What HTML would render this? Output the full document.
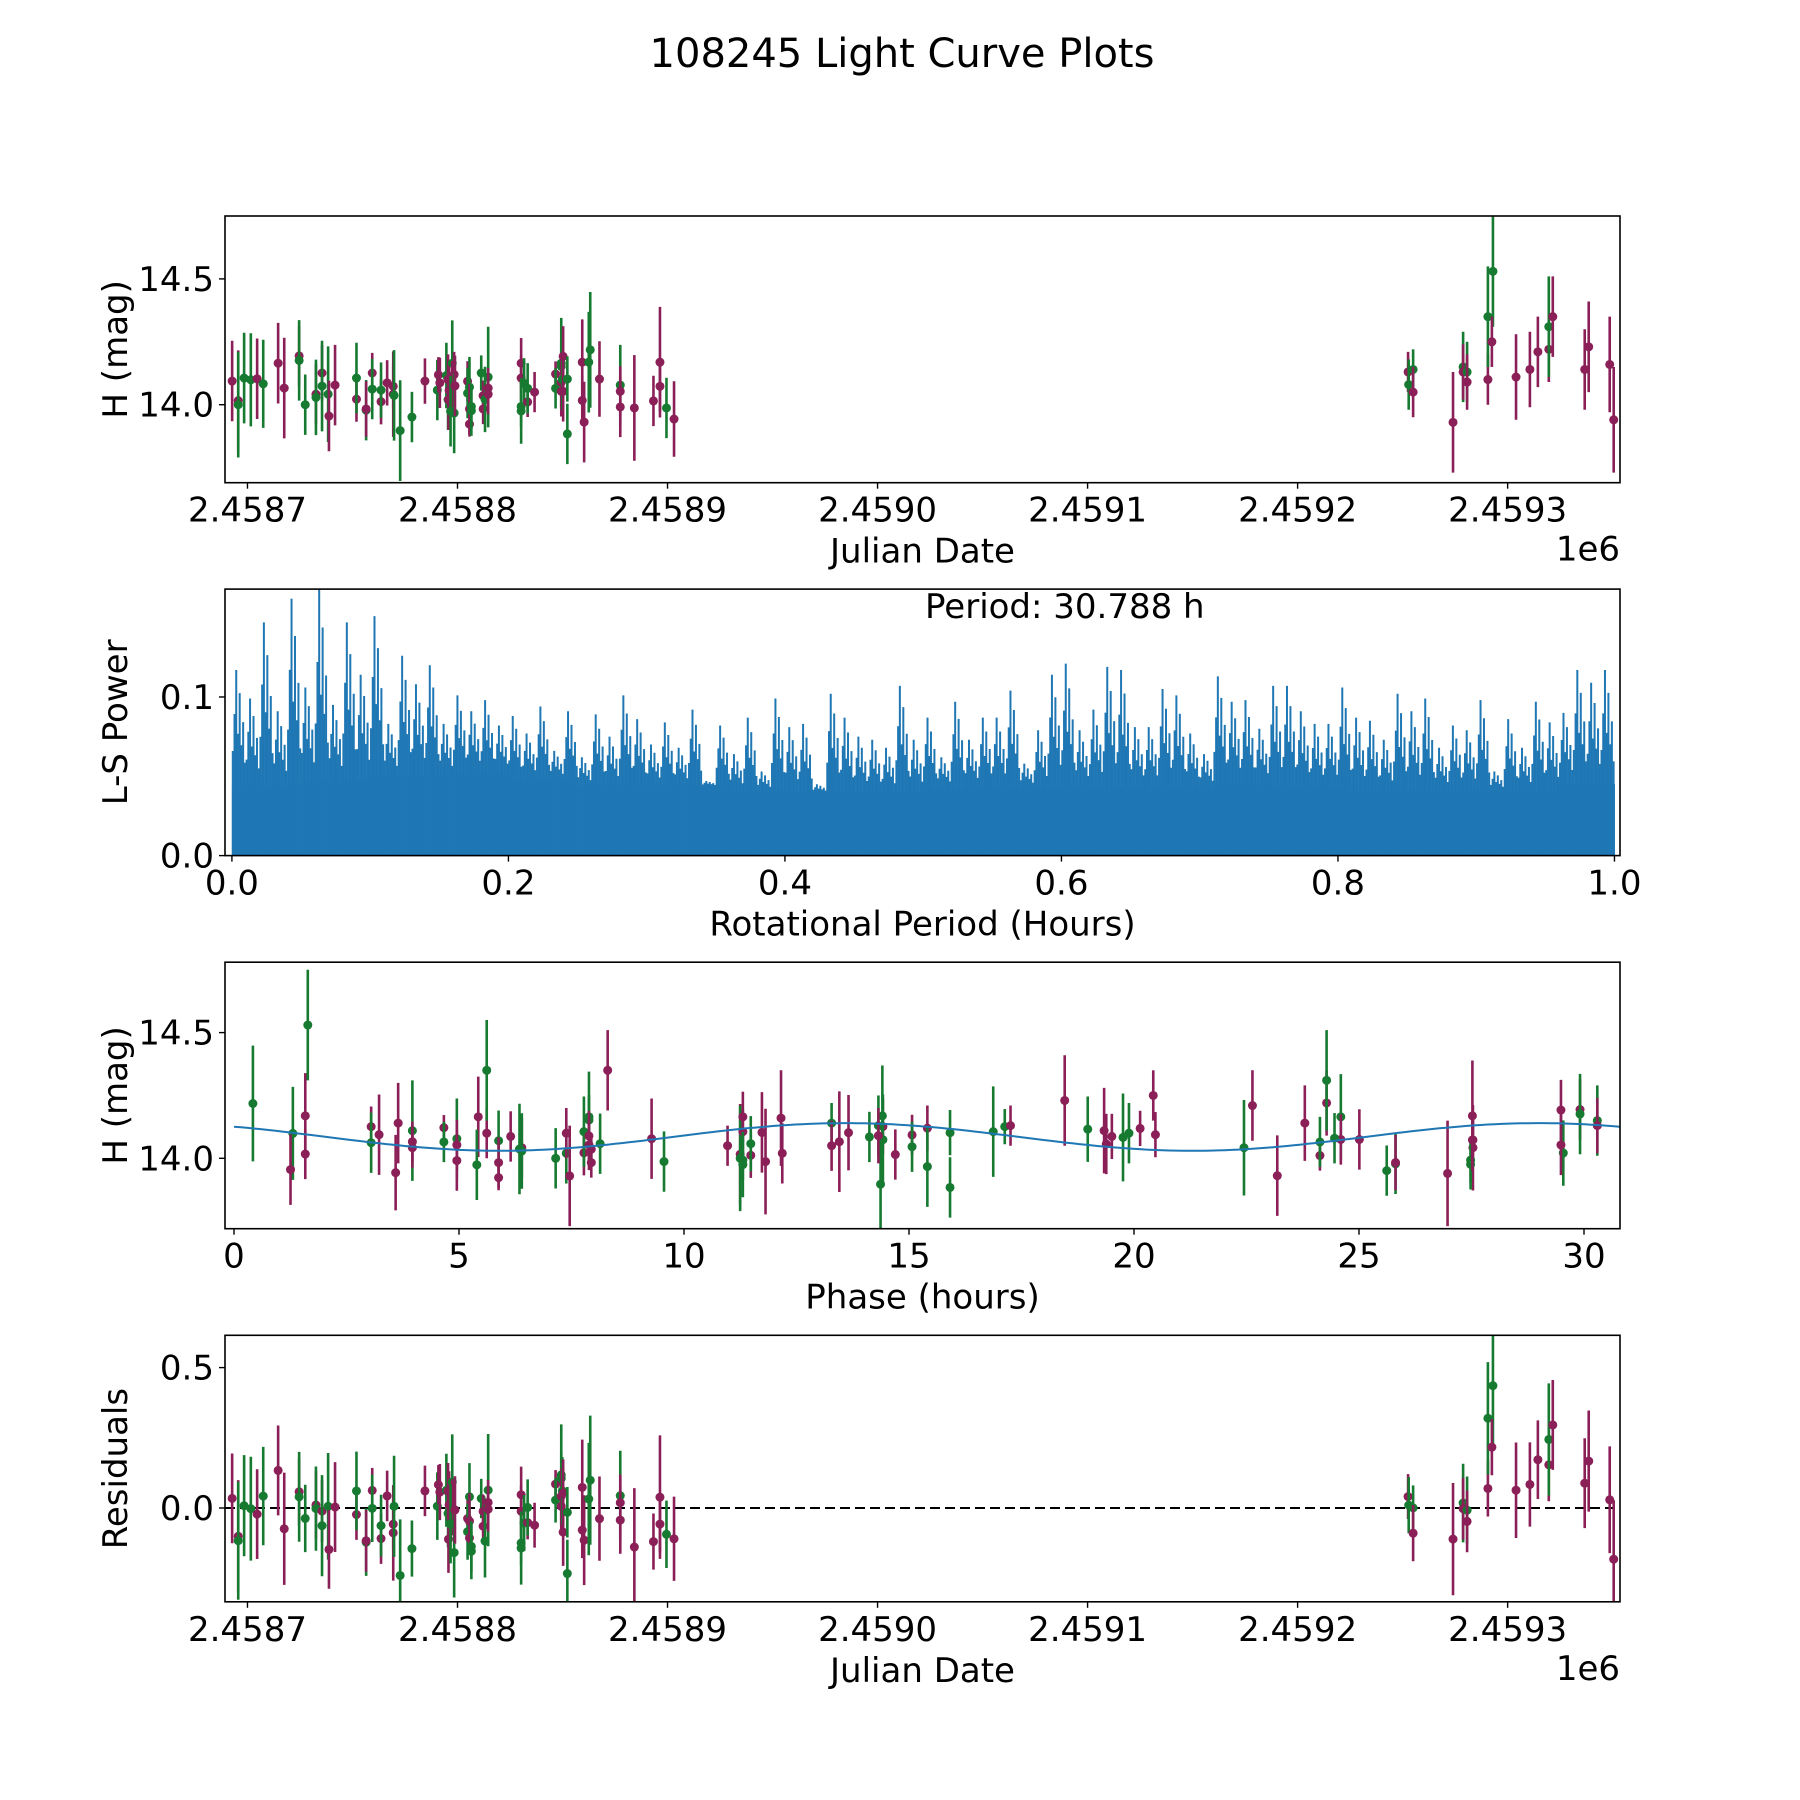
<!DOCTYPE html>
<html><head><meta charset="utf-8"><title>108245 Light Curve Plots</title>
<style>
html,body{margin:0;padding:0;background:#fff;}
svg{display:block;font-family:"DejaVu Sans","Liberation Sans",sans-serif;}
</style></head>
<body>
<svg id="fig" width="1800" height="1800" viewBox="0 0 1800 1800" xmlns="http://www.w3.org/2000/svg">
<rect width="1800" height="1800" fill="#fff"/>
<text x="902" y="67" font-size="40" text-anchor="middle">108245 Light Curve Plots</text>
</svg>
<script>
// ---------- data ----------
const jdBase = 2458700;
const obsJdOffset = [-7.3,-4.4,-4.4,-1.6,1.6,4.6,7.5,14.6,17.5,24.6,24.6,27.5,32.6,32.6,35.5,35.5,38.4,38.8,41.7,51.9,51.9,56.5,56.5,59.4,59.4,63.6,63.6,66.5,69.4,69.4,69.8,72.7,78.3,84.5,90.4,90.9,91.6,94.7,95.5,95.5,95.7,96.0,97.5,97.5,98.4,96.7,98.4,98.8,104.8,104.8,105.7,105.7,105.7,106.6,106.6,111.3,112.2,112.2,113.1,114.6,114.6,114.6,130.3,130.3,130.3,130.3,131.7,133.4,133.4,136.7,146.7,146.7,149.4,149.4,149.4,149.4,149.9,150.3,150.3,152.3,152.3,159.4,159.4,160.3,162.5,163.2,167.6,177.5,177.5,177.5,184.2,193.3,196.4,196.4,199.5,203.1,
552.6,552.9,555.0,555.0,574.0,578.8,578.8,580.7,580.7,590.6,590.6,593.0,592.5,604.0,610.6,614.4,619.6,619.6,621.5,636.7,638.6,648.6,650.5];
const obsMag = [14.094,14.016,14.0,14.106,14.099,14.103,14.083,14.165,14.066,14.194,14.176,14.0,14.042,14.029,14.126,14.074,14.042,13.955,14.078,14.022,14.106,13.978,13.983,14.126,14.062,14.012,14.058,14.087,14.073,14.042,14.037,13.897,13.951,14.094,14.058,14.119,14.087,14.116,14.02,14.1,14.02,14.057,14.165,14.075,14.12,13.974,13.967,14.075,14.093,14.046,14.07,13.983,13.923,13.993,13.976,14.126,14.036,13.983,14.021,14.11,14.066,14.042,14.165,14.106,13.993,13.975,14.085,14.011,14.065,14.05,14.122,14.065,14.165,14.152,14.089,14.053,14.10,14.192,14.053,14.102,13.884,14.169,14.017,13.931,14.169,14.218,14.102,14.078,14.053,13.991,13.987,14.015,14.073,14.169,13.987,13.943,
14.13,14.08,14.14,14.05,13.93,14.15,14.13,14.13,14.09,14.10,14.35,14.53,14.25,14.11,14.14,14.21,14.22,14.31,14.35,14.14,14.23,14.16,13.94];
const obsErr = [0.16,0.2,0.21,0.18,0.185,0.16,0.175,0.16,0.2,0.12,0.16,0.12,0.12,0.15,0.11,0.18,0.19,0.14,0.16,0.09,0.14,0.12,0.11,0.08,0.12,0.09,0.11,0.09,0.09,0.17,0.18,0.2,0.1,0.09,0.12,0.07,0.1,0.13,0.12,0.1,0.12,0.12,0.17,0.1,0.09,0.14,0.16,0.12,0.08,0.1,0.12,0.1,0.05,0.09,0.1,0.07,0.06,0.06,0.13,0.2,0.08,0.08,0.1,0.09,0.08,0.13,0.1,0.06,0.1,0.08,0.05,0.08,0.18,0.1,0.1,0.1,0.12,0.12,0.12,0.09,0.12,0.17,0.1,0.16,0.2,0.23,0.15,0.16,0.1,0.12,0.21,0.1,0.1,0.22,0.12,0.15,
0.08,0.1,0.08,0.1,0.2,0.14,0.11,0.12,0.11,0.1,0.2,0.22,0.1,0.17,0.15,0.14,0.13,0.2,0.16,0.16,0.18,0.19,0.21];
const obsBand = "MMGGGMGMMMGGMGMGGMMMGGMMGMGMMMGGGMGMMGGMMMGMMGGMMGGMMGGGMMGGMMMMGGGMGMMGGGMMGMMGGMMMGGMGMMMMMMGMM".split("").slice(0,96).concat("MGGMMGMGMMGGMMMMMGMMMMM".split(""));
const periodHours = 30.788;
const modelMean = 14.085, modelAmp = 0.055, modelHalfPeriod = 15.394, modelShift = 9.75;
const lsFreq = [0.00,0.01,0.02,0.03,0.04,0.05,0.06,0.07,0.08,0.09,0.10,0.11,0.12,0.13,0.14,0.15,0.16,0.17,0.18,0.19,0.20,0.21,0.22,0.23,0.24,0.25,0.26,0.27,0.28,0.29,0.30,0.31,0.32,0.33,0.34,0.35,0.36,0.37,0.38,0.39,0.40,0.41,0.42,0.43,0.44,0.45,0.46,0.47,0.48,0.49,0.50,0.51,0.52,0.53,0.54,0.55,0.56,0.57,0.58,0.59,0.60,0.61,0.62,0.63,0.64,0.65,0.66,0.67,0.68,0.69,0.70,0.71,0.72,0.73,0.74,0.75,0.76,0.77,0.78,0.79,0.80,0.81,0.82,0.83,0.84,0.85,0.86,0.87,0.88,0.89,0.90,0.91,0.92,0.93,0.94,0.95,0.96,0.97,0.98,0.99];
const lsPeak = [0.117,0.099,0.147,0.091,0.162,0.106,0.168,0.095,0.147,0.114,0.151,0.083,0.126,0.108,0.12,0.083,0.101,0.091,0.098,0.082,0.088,0.077,0.094,0.066,0.091,0.062,0.089,0.075,0.101,0.086,0.07,0.084,0.068,0.092,0.047,0.082,0.064,0.087,0.053,0.099,0.081,0.083,0.045,0.102,0.087,0.075,0.073,0.068,0.107,0.073,0.087,0.062,0.097,0.073,0.087,0.087,0.104,0.058,0.079,0.114,0.121,0.079,0.092,0.119,0.117,0.081,0.081,0.105,0.101,0.077,0.064,0.113,0.097,0.098,0.08,0.107,0.107,0.091,0.083,0.083,0.106,0.087,0.085,0.073,0.102,0.091,0.099,0.068,0.082,0.079,0.098,0.053,0.086,0.068,0.097,0.084,0.09,0.117,0.109,0.117];
const lsTrough = [0.044,0.047,0.050,0.052,0.048,0.044,0.044,0.041,0.040,0.040,0.043,0.043,0.043,0.043,0.045,0.043,0.041,0.041,0.041,0.045];

// ---------- helpers ----------
const NS = "http://www.w3.org/2000/svg";
const svg = document.getElementById("fig");
function mk(tag, attrs, parent){ const e=document.createElementNS(NS,tag); for(const k in attrs) e.setAttribute(k,attrs[k]); (parent||svg).appendChild(e); return e; }
const L=225, R=1620, FS=34;
const MAG="#8b1f57", GRN="#167a31", BLUE="#1f77b4";
function scale(d0,d1,p0,p1){ return v => p0 + (v-d0)/(d1-d0)*(p1-p0); }
function modelAt(ph){ return modelMean + modelAmp*Math.sin(2*Math.PI*(ph-modelShift)/modelHalfPeriod); }
function phaseOf(jd){ let p = ((jd-2458690)*24) % periodHours; if(p<0) p+=periodHours; return p; }

function axesFrame(name){
  const g=mk("g",{});
  
  
  return g;
}
function drawBorder(g,top,bot){
  const r=mk("rect",{x:L,y:top,width:R-L,height:bot-top,fill:"none",stroke:"#000","stroke-width":1.6},g);
  
  
}
function xTicks(g,sx,vals,labels,bot){
  vals.forEach((v,i)=>{
    const x=sx(v);
    mk("line",{x1:x,x2:x,y1:bot,y2:bot+6,stroke:"#000","stroke-width":1.4},g);
    const t=mk("text",{x:x,y:bot+39,"font-size":FS,"text-anchor":"middle"},g);
    t.textContent=labels[i];
    
    
  });
}
function yTicks(g,sy,vals,labels){
  vals.forEach((v,i)=>{
    const y=sy(v);
    mk("line",{x1:L-6,x2:L,y1:y,y2:y,stroke:"#000","stroke-width":1.4},g);
    const t=mk("text",{x:L-11,y:y+12,"font-size":FS,"text-anchor":"end"},g);
    t.textContent=labels[i];
    
    
  });
}
function xLabel(g,txt,bot,name){
  const t=mk("text",{x:(L+R)/2,y:bot+80,"font-size":FS,"text-anchor":"middle"},g);
  t.textContent=txt;
  
  
}
function yLabel(g,txt,top,bot,name){
  const cy=(top+bot)/2;
  const t=mk("text",{x:0,y:0,"font-size":FS,"text-anchor":"middle",transform:`translate(127,${cy}) rotate(-90)`},g);
  t.textContent=txt;
  
  
}
function offsetText(g,bot){
  const t=mk("text",{x:R,y:bot+78,"font-size":FS,"text-anchor":"end"},g);
  t.textContent="1e6";
  
  
}
function errPoints(g,sx,sy,xs,ys,errs,clipId){
  const pg=mk("g",{"clip-path":`url(#${clipId})`},g);
  xs.forEach((xv,i)=>{
    const c = obsBand[i]==="G"?GRN:MAG;
    const x=sx(xv);
    const bar=mk("line",{x1:x,x2:x,y1:sy(ys[i]-errs[i]),y2:sy(ys[i]+errs[i]),stroke:c,"stroke-width":2.6},pg);
    
    
    const pt=mk("circle",{cx:x,cy:sy(ys[i]),r:4.5,fill:c},pg);
    
    
  });
}
function clip(id,top,bot){
  const d=mk("clipPath",{id:id}); mk("rect",{x:L,y:top,width:R-L,height:bot-top},d);
}

const jdTickVals=[2458700,2458800,2458900,2459000,2459100,2459200,2459300];
const jdTickLabels=["2.4587","2.4588","2.4589","2.4590","2.4591","2.4592","2.4593"];
const obsJd = obsJdOffset.map(d=>jdBase+d);

// ---------- panel 1 ----------
(function(){
  const top=216,bot=482.7;
  const g=axesFrame("light-curve-panel");
  const sx=scale(2458689.3,2459353.5,L,R), sy=scale(13.69,14.75,bot,top);
  clip("c1",top,bot);
  errPoints(g,sx,sy,obsJd,obsMag,obsErr,"c1");
  drawBorder(g,top,bot);
  xTicks(g,sx,jdTickVals,jdTickLabels,bot);
  yTicks(g,sy,[14.0,14.5],["14.0","14.5"]);
  xLabel(g,"Julian Date",bot,"x-axis-title");
  yLabel(g,"H (mag)",top,bot,"y-axis-title");
  offsetText(g,bot);
})();

// ---------- panel 2 ----------
(function(){
  const top=589.1,bot=855.6;
  const g=axesFrame("periodogram-panel");
  const sx=scale(-0.005,1.004,L,R), sy=scale(0,0.168,bot,top);
  clip("c2",top,bot);
  const pg=mk("g",{"clip-path":"url(#c2)"},g);
  const frac=[0.3,0.62,1.0,0.45,0.8,0.35,0.55,0.2];
  lsFreq.forEach((f,i)=>{
    const tr=lsTrough[Math.min(lsTrough.length-1,Math.floor(f/0.05))];
    const x0=sx(f), x1=sx(f+0.01);
    const base=mk("rect",{x:x0,y:sy(tr),width:x1-x0+0.5,height:sy(0)-sy(tr),fill:BLUE},pg);
    
    
    frac.forEach((fr,j)=>{
      const xx=x0+(j+0.5)*(x1-x0)/frac.length;
      const h=tr+(lsPeak[i]-tr)*fr;
      const ln=mk("line",{x1:xx,x2:xx,y1:sy(0),y2:sy(h),stroke:BLUE,"stroke-width":2},pg);
      
      
    });
  });
  drawBorder(g,top,bot);
  xTicks(g,sx,[0,0.2,0.4,0.6,0.8,1.0],["0.0","0.2","0.4","0.6","0.8","1.0"],bot);
  yTicks(g,sy,[0.0,0.1],["0.0","0.1"]);
  xLabel(g,"Rotational Period (Hours)",bot,"x-axis-title");
  yLabel(g,"L-S Power",top,bot,"y-axis-title");
  const t=mk("text",{x:925,y:618,"font-size":FS},g);
  t.textContent="Period: "+periodHours.toFixed(3)+" h";
  
  
})();

// ---------- panel 3 ----------
(function(){
  const top=962.2,bot=1228.7;
  const g=axesFrame("phased-curve-panel");
  const sx=scale(-0.2,30.8,L,R), sy=scale(13.72,14.78,bot,top);
  clip("c3",top,bot);
  const ph=obsJd.map(phaseOf);
  errPoints(g,sx,sy,ph,obsMag,obsErr,"c3");
  let d="";
  for(let k=0;k<=200;k++){ const p=k/200*periodHours; d+=(k?"L":"M")+sx(p).toFixed(1)+","+sy(modelAt(p)).toFixed(1); }
  const fit=mk("path",{d:d,fill:"none",stroke:BLUE,"stroke-width":2},g);
  
  
  drawBorder(g,top,bot);
  xTicks(g,sx,[0,5,10,15,20,25,30],["0","5","10","15","20","25","30"],bot);
  yTicks(g,sy,[14.0,14.5],["14.0","14.5"]);
  xLabel(g,"Phase (hours)",bot,"x-axis-title");
  yLabel(g,"H (mag)",top,bot,"y-axis-title");
})();

// ---------- panel 4 ----------
(function(){
  const top=1335.3,bot=1601.8;
  const g=axesFrame("residuals-panel");
  const sx=scale(2458689.3,2459353.5,L,R), sy=scale(-0.334,0.615,bot,top);
  clip("c4",top,bot);
  const res=obsMag.map((m,i)=>m-modelAt(phaseOf(obsJd[i])));
  const zl=mk("line",{x1:L,x2:R,y1:sy(0),y2:sy(0),stroke:"#000","stroke-width":2,"stroke-dasharray":"10,5"},g);
  
  
  errPoints(g,sx,sy,obsJd,res,obsErr,"c4");
  drawBorder(g,top,bot);
  xTicks(g,sx,jdTickVals,jdTickLabels,bot);
  yTicks(g,sy,[0.0,0.5],["0.0","0.5"]);
  xLabel(g,"Julian Date",bot,"x-axis-title");
  yLabel(g,"Residuals",top,bot,"y-axis-title");
  offsetText(g,bot);
})();
</script>
</body></html>
